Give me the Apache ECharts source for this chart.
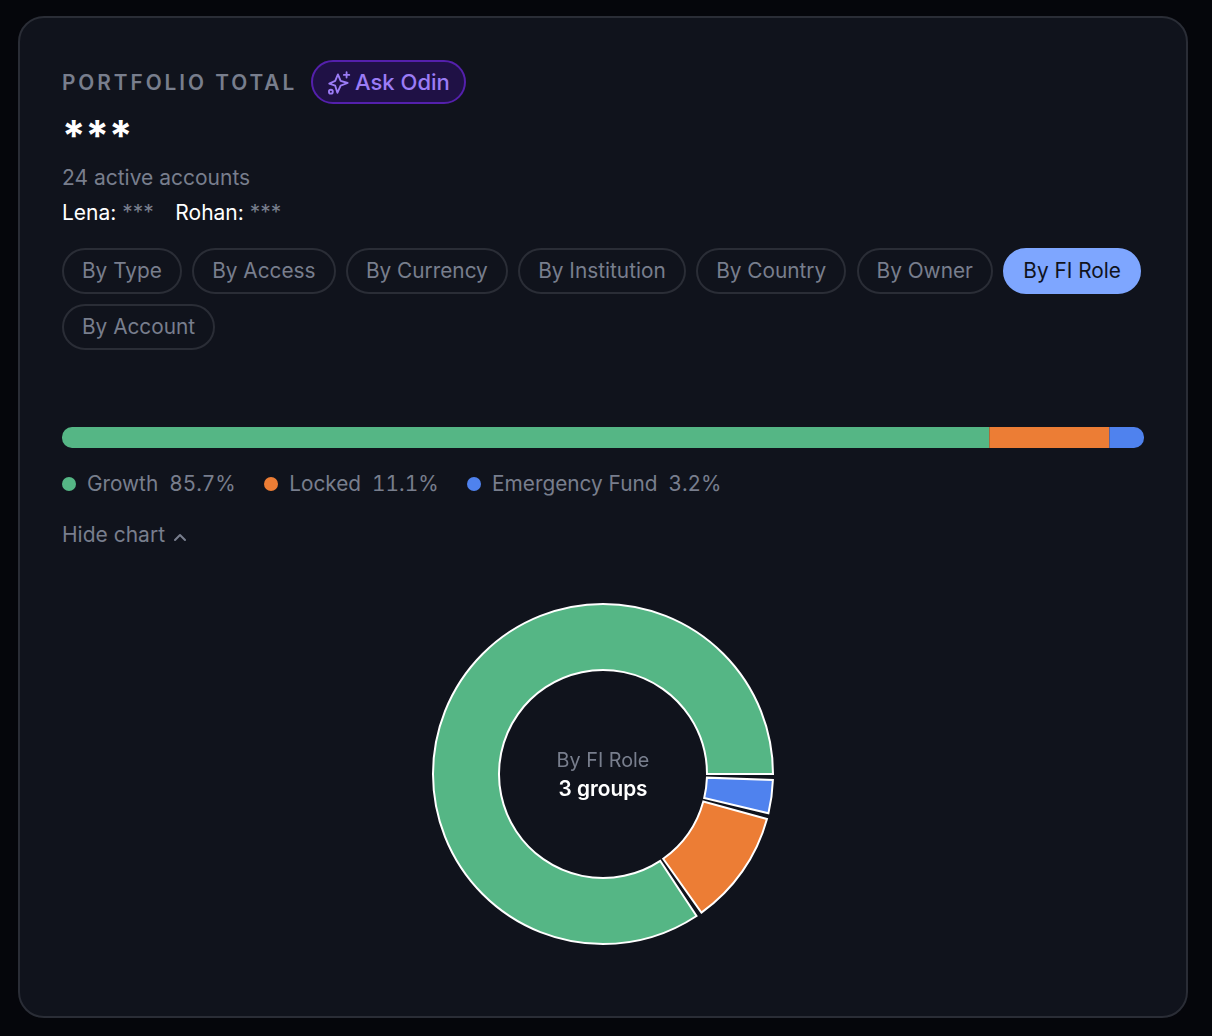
<!DOCTYPE html>
<html>
<head>
<meta charset="utf-8">
<style>
  html, body { margin: 0; height: 100%; background: #05060b; font-family: Inter, sans-serif; overflow: hidden; }
  #card { position: absolute; left: 18px; top: 16px; width: 1166px; height: 998px; background: #10131c; border: 2px solid #2a2d36; border-radius: 26px; }
  #plot { position: absolute; left: 0; top: 0; width: 1212px; height: 1036px; }
  .t { position: absolute; white-space: nowrap; line-height: 1; }
  #eyebrow { left: 62px; top: 73px; font-size: 20.8px; font-weight: 600; letter-spacing: 2.95px; color: #787e8d; }
  #ask { position: absolute; left: 311px; top: 60px; width: 155px; height: 44px; box-sizing: border-box; border: 2px solid #5420ac; border-radius: 22px; background: #1f1145; }
  #ask svg { position: absolute; left: 13px; top: 8px; }
  #ask span { position: absolute; left: 42px; top: 9px; font-size: 22px; line-height: 1; font-weight: 450; color: #9b7cf6; white-space: nowrap; }
  #total { left: 62px; top: 115px; font-size: 42px; font-weight: 700; color: #fff; }
  #accounts { left: 62px; top: 167px; font-size: 21px; color: #787e8d; }
  #owners { left: 62px; top: 202px; font-size: 21px; color: #fff; }
  #owners i { font-style: normal; color: #787e8d; }
  #chips { position: absolute; left: 62px; top: 248px; width: 1090px; display: flex; flex-wrap: wrap; gap: 10px 10.4px; }
  .chip { box-sizing: border-box; height: 46px; line-height: 42px; padding: 0 18px; border: 2px solid #2a2d36; border-radius: 23px; font-size: 20.8px; color: #787e8d; white-space: nowrap; }
  .chip.on { background: #7ea6ff; border-color: #7ea6ff; color: #10131c; }
  #legend { position: absolute; left: 62px; top: 472.5px; display: flex; gap: 28.5px; font-size: 20.8px; line-height: 22px; color: #787e8d; }
  #legend div { display: flex; align-items: center; white-space: pre; }
  #legend b { width: 14px; height: 14px; border-radius: 50%; margin-right: 11px; }
  #legend em { font-style: normal; margin-left: 11px; font-variant-numeric: tabular-nums; }
  #toggle { left: 62px; top: 524px; font-size: 21px; color: #787e8d; }
  #chev { position: absolute; left: 173px; top: 532px; }
</style>
</head>
<body>
<div id="card"></div>
<div id="eyebrow" class="t">PORTFOLIO TOTAL</div>
<div id="ask">
  <svg width="26" height="26" viewBox="0 0 24 24" fill="none" stroke="#9b7cf6" stroke-width="1.7" stroke-linejoin="round" stroke-linecap="round">
    <path d="M11 4 L13.5 10 L20 12 L13.5 14.5 L10.5 21 L8.5 14.5 L3 12.5 L8.5 10 Z"/>
    <path d="M19 2 V7 M16.5 4.5 H21.5"/>
    <circle cx="4.5" cy="20" r="1.8"/>
  </svg>
  <span>Ask Odin</span>
</div>
<div id="total" class="t">***</div>
<div id="accounts" class="t">24 active accounts</div>
<div id="owners" class="t"></div>
<div id="chips"></div>
<div id="legend"></div>
<div id="toggle" class="t">Hide chart</div>
<svg id="chev" width="14" height="10" viewBox="0 0 14 10" fill="none" stroke="#787e8d" stroke-width="2" stroke-linecap="round" stroke-linejoin="round"><path d="M2 8 L7 3 L12 8"/></svg>
<div id="plot"></div>

<script src="https://cdn.jsdelivr.net/npm/echarts@6/dist/echarts.min.js"></script>
<script>
// Portfolio split by FI role
const groups = ['Growth', 'Locked', 'Emergency Fund'];
const shares = [85.7, 11.1, 3.2];
const colours = ['#55b685', '#ec7d35', '#4f82ee'];
const chipLabels = ['By Type', 'By Access', 'By Currency', 'By Institution', 'By Country', 'By Owner', 'By FI Role', 'By Account'];
const activeChip = 'By FI Role';
const owners = ['Lena', 'Rohan'];

document.getElementById('owners').innerHTML = owners
  .map(n => n + ': <i>***</i>').join('<span style="display:inline-block;width:21.5px"></span>');
document.getElementById('chips').innerHTML = chipLabels
  .map(c => '<div class="chip' + (c === activeChip ? ' on' : '') + '">' + c + '</div>').join('');
document.getElementById('legend').innerHTML = groups
  .map((g, i) => '<div><b style="background:' + colours[i] + '"></b>' + g + '<em>' + shares[i] + '%</em></div>').join('');

const chart = echarts.init(document.getElementById('plot'), null, { renderer: 'canvas' });
const lastIndex = groups.length - 1;
const stackedBars = groups.map((g, i) => ({
  type: 'bar',
  name: g,
  stack: 'share',
  barWidth: 21,
  silent: true,
  data: [shares[i]],
  itemStyle: {
    color: colours[i],
    borderRadius: i === 0 ? [10, 0, 0, 10] : i === lastIndex ? [0, 10, 10, 0] : 0
  }
}));

// Donut ring: gaps are taken off the full turn first, then the rest is shared out by value,
// running anticlockwise from three o'clock.
const ringCentre = [603, 774];
const ringRadii = [104, 170];
const gapAngle = 2 * Math.PI / 180;
const total = shares.reduce((a, b) => a + b, 0);
const sweepPerUnit = (2 * Math.PI - gapAngle * shares.length) / total;

function drawSlice(params, api) {
  const i = params.dataIndex;
  const before = shares.slice(0, i).reduce((a, b) => a + b, 0);
  const start = -(before * sweepPerUnit + i * gapAngle);
  return {
    type: 'sector',
    shape: {
      cx: ringCentre[0], cy: ringCentre[1],
      r0: ringRadii[0], r: ringRadii[1],
      startAngle: start,
      endAngle: start - api.value(0) * sweepPerUnit,
      clockwise: false
    },
    style: { fill: colours[i], stroke: '#ffffff', lineWidth: 2 }
  };
}

chart.setOption({
  animation: false,
  backgroundColor: 'transparent',
  grid: { left: 62, top: 427, width: 1082, height: 21 },
  xAxis: { type: 'value', min: 0, max: 100, show: false },
  yAxis: { type: 'category', data: ['share'], show: false },
  graphic: [
    { type: 'text', x: ringCentre[0], y: 761, silent: true, style: { text: activeChip, fill: '#787e8d', font: '400 19.8px Inter', align: 'center', verticalAlign: 'middle' } },
    { type: 'text', x: ringCentre[0], y: 790, silent: true, style: { text: groups.length + ' groups', fill: '#ffffff', font: '600 20.8px Inter', align: 'center', verticalAlign: 'middle' } }
  ],
  series: stackedBars.concat([{
    type: 'custom',
    coordinateSystem: 'none',
    silent: true,
    renderItem: drawSlice,
    encode: { value: 0 },
    data: shares.map(v => [v])
  }])
});
</script>
</body>
</html>
